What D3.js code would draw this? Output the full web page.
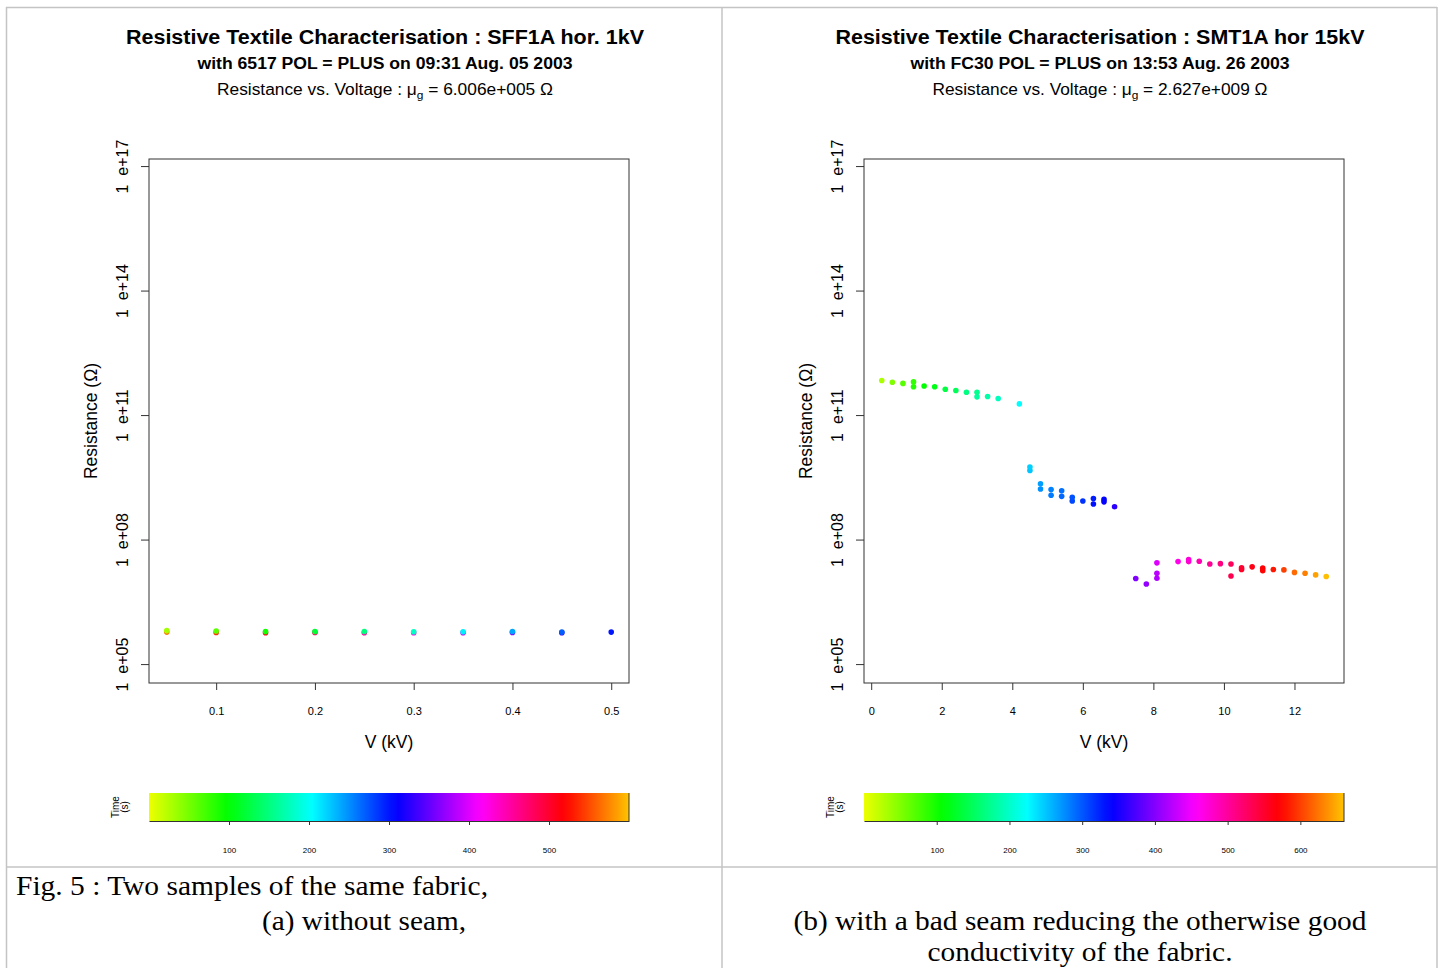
<!DOCTYPE html>
<html>
<head>
<meta charset="utf-8">
<script src="https://cdn.jsdelivr.net/npm/d3@7"></script>
<style>
body { margin: 0; background: #fff; }
text { font-family: "Liberation Sans", Arial, sans-serif; fill: #000; }
</style>
</head>
<body>
<svg id="chart" width="1444" height="968"></svg>
<script>
// Panel (a) : 6517, ramp up then down, voltage in kV, resistance in ohm, time in s
const leftV = [0.05, 0.1, 0.15, 0.2, 0.25, 0.3, 0.35, 0.4, 0.45, 0.5,
               0.45, 0.4, 0.35, 0.3, 0.25, 0.2, 0.15, 0.1, 0.05];
const leftR = [6.4e5, 6.25e5, 6.1e5, 6.1e5, 6.1e5, 6.0e5, 6.0e5, 6.1e5, 5.9e5, 5.9e5,
               5.7e5, 5.8e5, 5.7e5, 5.7e5, 5.7e5, 5.8e5, 5.7e5, 5.8e5, 5.9e5];
const leftT = [30, 60, 90, 120, 150, 180, 210, 240, 270, 300,
               330, 360, 390, 420, 450, 480, 510, 540, 570];

// Panel (b) : FC30, single ramp up
const rightV = [0.3, 0.6, 0.9, 1.2, 1.2, 1.5, 1.8, 2.1, 2.4, 2.7, 3.0, 3.0, 3.3, 3.6, 4.2,
                4.5, 4.5, 4.8, 4.8, 5.1, 5.1, 5.4, 5.4, 5.7, 5.7, 6.0, 6.3, 6.3, 6.6, 6.6, 6.9,
                7.5, 7.8, 8.1, 8.1, 8.1, 8.7, 9.0, 9.0, 9.3, 9.6, 9.9, 10.2, 10.2, 10.5, 10.5,
                10.8, 11.1, 11.1, 11.4, 11.7, 12.0, 12.3, 12.6, 12.9];
const rightR = [6.8e11, 6.2e11, 5.8e11, 6.3e11, 4.8e11, 5.0e11, 4.8e11, 4.2e11, 3.9e11, 3.55e11, 3.55e11, 2.75e11, 2.8e11, 2.5e11, 1.86e11,
                5.6e9, 4.6e9, 2.2e9, 1.66e9, 1.6e9, 1.17e9, 1.5e9, 1.1e9, 1.05e9, 8.5e8, 8.5e8, 9.8e8, 7.2e8, 9.3e8, 8.1e8, 6.2e8,
                1.15e7, 8.5e6, 1.17e7, 1.55e7, 2.75e7, 2.95e7, 3.3e7, 2.95e7, 3.0e7, 2.57e7, 2.63e7, 2.57e7, 1.32e7, 2.1e7, 1.9e7,
                2.2e7, 2.05e7, 1.78e7, 1.9e7, 1.86e7, 1.62e7, 1.55e7, 1.41e7, 1.29e7];
const rightT = [31, 50, 69, 86, 92, 108, 118, 137, 147, 166, 172, 180, 185, 195, 224,
                245, 250, 268, 274, 280, 284, 289, 293, 303, 307, 317, 327, 333, 338, 342, 359,
                398, 407, 420, 425, 440, 465, 472, 478, 490, 504, 513, 530, 536, 550, 554,
                562, 569, 573, 581, 600, 620, 629, 645, 658];

// Axes
const yTicks = [1e5, 1e8, 1e11, 1e14, 1e17];
const yDomain = [3.5e4, 1.48e17];
const leftXTicks = [0.1, 0.2, 0.3, 0.4, 0.5];
const rightXTicks = [0, 2, 4, 6, 8, 10, 12];
const leftTimeTicks = [100, 200, 300, 400, 500];
const rightTimeTicks = [100, 200, 300, 400, 500, 600];
const leftTimeMax = 600;
const rightTimeMax = 660;

const panels = [
    {
        x0: 149, v: leftV, r: leftR, t: leftT, xTicks: leftXTicks, tTicks: leftTimeTicks, tMax: leftTimeMax,
        titles: ["Resistive Textile Characterisation : SFF1A hor. 1kV", "with 6517 POL = PLUS on 09:31 Aug. 05 2003"],
        mean: "6.006e+005", tw: [518, 375, 336]
    },
    {
        x0: 864, v: rightV, r: rightR, t: rightT, xTicks: rightXTicks, tTicks: rightTimeTicks, tMax: rightTimeMax,
        titles: ["Resistive Textile Characterisation : SMT1A hor 15kV", "with FC30 POL = PLUS on 13:53 Aug. 26 2003"],
        mean: "2.627e+009", tw: [529, 379, 335]
    }
];

const W = 480, plotTop = 159, plotBottom = 683;
const svg = d3.select("#chart");

svg.append("rect").attr("width", 1444).attr("height", 968).attr("fill", "#fff");

// table lines
const grid = svg.append("g").attr("stroke", "#c4c4c4").attr("stroke-width", 1.5);
grid.append("line").attr("x1", 6).attr("x2", 1437).attr("y1", 7.5).attr("y2", 7.5);
grid.append("line").attr("x1", 6).attr("x2", 1437).attr("y1", 867).attr("y2", 867);
[6.5, 722, 1437].forEach(x => grid.append("line").attr("x1", x).attr("x2", x).attr("y1", 7).attr("y2", 968));

// rainbow colour of the time scale
const timeColor = (t, tMax) => d3.hsl((64 + 342 * t / tMax) % 360, 1, 0.5).formatHex();

const y = d3.scaleLog().domain(yDomain).range([plotBottom, plotTop]);

panels.forEach((p, i) => {
    const g = svg.append("g");
    const cx = p.x0 + W / 2;

    // titles
    g.append("text").attr("x", cx - 4).attr("y", 44).attr("text-anchor", "middle")
        .attr("font-size", 20).attr("font-weight", "bold")
        .attr("textLength", p.tw[0]).attr("lengthAdjust", "spacingAndGlyphs").text(p.titles[0]);
    g.append("text").attr("x", cx - 4).attr("y", 69).attr("text-anchor", "middle")
        .attr("font-size", 16).attr("font-weight", "bold")
        .attr("textLength", p.tw[1]).attr("lengthAdjust", "spacingAndGlyphs").text(p.titles[1]);
    const t3 = g.append("text").attr("x", cx - 4).attr("y", 95).attr("text-anchor", "middle")
        .attr("font-size", 16).attr("textLength", p.tw[2]).attr("lengthAdjust", "spacingAndGlyphs");
    t3.append("tspan").text("Resistance vs. Voltage : \u03bc");
    t3.append("tspan").attr("font-size", 11).attr("dy", 4).text("g");
    t3.append("tspan").attr("dy", -4).text(" = " + p.mean + " \u03a9");

    // scales (x padded by 4% like R)
    const ext = d3.extent(p.v);
    const pad = (ext[1] - ext[0]) * 0.04;
    const x = d3.scaleLinear().domain([ext[0] - pad, ext[1] + pad]).range([p.x0, p.x0 + W]);

    // y axis
    const ya = g.append("g").attr("transform", `translate(${p.x0},0)`)
        .call(d3.axisLeft(y).tickValues(yTicks).tickSize(8)
            .tickFormat(d => "1\u00a0\u00a0e+" + String(Math.round(Math.log10(d))).padStart(2, "0")));
    ya.select(".domain").remove();
    ya.selectAll("line").attr("stroke", "#333");
    ya.selectAll("text").attr("transform", "rotate(-90)").attr("x", 0).attr("y", -21).attr("dy", 0)
        .attr("text-anchor", "middle").attr("font-size", 16).attr("fill", "#000")
        .attr("font-family", "Liberation Sans, Arial, sans-serif");

    // x axis
    const xa = g.append("g").attr("transform", `translate(0,${plotBottom})`)
        .call(d3.axisBottom(x).tickValues(p.xTicks).tickSize(7).tickPadding(17).tickFormat(d => String(d)));
    xa.select(".domain").remove();
    xa.selectAll("line").attr("stroke", "#333");
    xa.selectAll("text").attr("font-size", 11).attr("fill", "#000")
        .attr("font-family", "Liberation Sans, Arial, sans-serif");

    // frame
    g.append("rect").attr("x", p.x0).attr("y", plotTop).attr("width", W).attr("height", plotBottom - plotTop)
        .attr("fill", "none").attr("stroke", "#333").attr("stroke-width", 1);

    // axis titles
    g.append("text").attr("x", cx).attr("y", 748).attr("text-anchor", "middle")
        .attr("font-size", 17.5).attr("fill", "#222").text("V (kV)");
    g.append("text").attr("transform", `translate(${p.x0 - 52},${(plotTop + plotBottom) / 2}) rotate(-90)`)
        .attr("text-anchor", "middle").attr("font-size", 17.5).attr("fill", "#222").text("Resistance (\u03a9)");

    // points, latest drawn first
    const pts = p.v.map((v, k) => ({ v: v, r: p.r[k], t: p.t[k] }))
        .sort((a, b) => b.t - a.t);
    g.selectAll("circle.pt").data(pts).join("circle")
        .attr("class", "pt")
        .attr("cx", d => x(d.v))
        .attr("cy", d => y(d.r))
        .attr("r", 2.8)
        .attr("fill", d => timeColor(d.t, p.tMax));

    // colour bar
    const gradId = "grad" + i;
    const grad = svg.append("defs").append("linearGradient").attr("id", gradId);
    d3.range(0, 1.0001, 0.02).forEach(f => {
        grad.append("stop").attr("offset", f).attr("stop-color", timeColor(f * p.tMax, p.tMax));
    });
    const cbTop = 793, cbBottom = 821;
    g.append("rect").attr("x", p.x0).attr("y", cbTop).attr("width", W).attr("height", cbBottom - cbTop)
        .attr("fill", `url(#${gradId})`);
    g.append("line").attr("x1", p.x0 + W).attr("x2", p.x0 + W).attr("y1", cbTop).attr("y2", cbBottom)
        .attr("stroke", "#333");
    const tx = d3.scaleLinear().domain([0, p.tMax]).range([p.x0, p.x0 + W]);
    const ta = g.append("g").attr("transform", `translate(0,${cbBottom})`)
        .call(d3.axisBottom(tx).tickValues(p.tTicks).tickSize(4).tickPadding(22).tickSizeOuter(0));
    ta.select(".domain").attr("stroke", "#333");
    ta.selectAll("line").attr("stroke", "#333");
    ta.selectAll("text").attr("font-size", 8).attr("fill", "#000")
        .attr("font-family", "Liberation Sans, Arial, sans-serif");

    g.append("text").attr("transform", `translate(${p.x0 - 30},${(cbTop + cbBottom) / 2}) rotate(-90)`)
        .attr("text-anchor", "middle").attr("font-size", 10).attr("fill", "#222").text("Time");
    g.append("text").attr("transform", `translate(${p.x0 - 21},${(cbTop + cbBottom) / 2}) rotate(-90)`)
        .attr("text-anchor", "middle").attr("font-size", 10).attr("fill", "#222").text("(s)");
});

// figure caption
const cap = svg.append("g");
const capLines = [
    { text: "Fig. 5 : Two samples of the same fabric,", x: 16, y: 895, w: 472, anchor: "start" },
    { text: "(a) without seam,", x: 364, y: 930, w: 204, anchor: "middle" },
    { text: "(b) with a bad seam reducing the otherwise good", x: 1080, y: 930, w: 573, anchor: "middle" },
    { text: "conductivity of the fabric.", x: 1080, y: 961, w: 305, anchor: "middle" }
];
capLines.forEach(c => {
    cap.append("text").attr("x", c.x).attr("y", c.y).attr("text-anchor", c.anchor)
        .style("font-family", "'Liberation Serif', 'Times New Roman', serif")
        .attr("font-size", 28).attr("textLength", c.w).attr("lengthAdjust", "spacingAndGlyphs")
        .text(c.text);
});
</script>
</body>
</html>
